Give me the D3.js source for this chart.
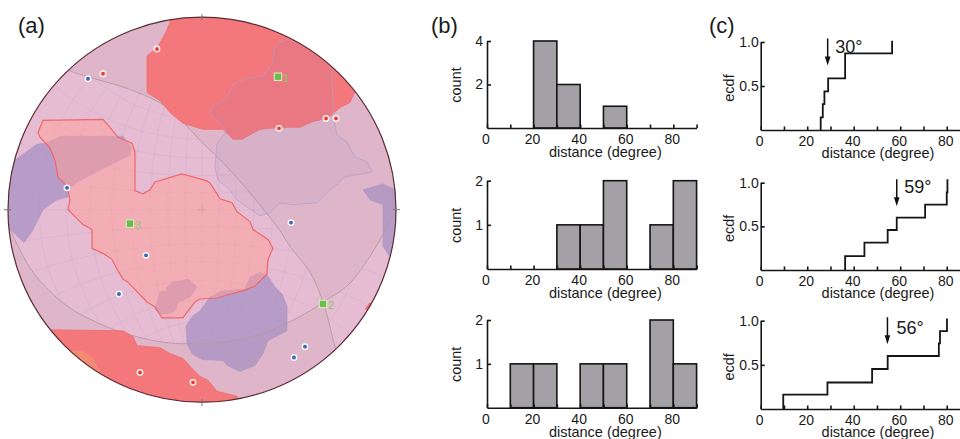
<!DOCTYPE html>
<html>
<head>
<meta charset="utf-8">
<script src="https://cdn.jsdelivr.net/npm/d3@7"></script>
<style>
	html, body { margin: 0; padding: 0; background: #fff; }
	svg { display: block; }
	text { font-family: "Liberation Sans", Arial, sans-serif; fill: #1a1a1a; }
	.axis path, .axis line { stroke: #151515; stroke-width: 1.6; }
	.axis text { font-size: 14px; font-family: "Liberation Sans", Arial, sans-serif; fill: #1a1a1a; }
</style>
</head>
<body>
<svg id="viz" width="960" height="439"></svg>
<script>
// Stereonet outlines. Net units, origin at disc centre, y down
const topRed = [[-32,-189],[-37,-177],[-45,-163],[-55,-155],[-55,-118],[-42,-110],[-32,-98],[-19,-87],[1,-81],[21,-81],[31,-71],[40,-71],[58,-81],[78,-83],[98,-83],[111,-89],[125,-92],[131,-97],[138,-103],[148,-108],[152,-117],[160,-125],[160,-205],[-32,-205]];
const bottomRed = [[-152,121],[-79,122],[-69,128],[-65,137],[-42,139],[-32,145],[-19,150],[-10,160],[-2,168],[6,172],[15,183],[35,188],[40,205],[-165,205],[-165,121]];
const lightRed = [[-164,-78],[-159,-90],[-99,-91],[-87,-77],[-84,-73],[-70,-67],[-67,-58],[-67,-19],[-59,-16],[-52,-20],[-47,-28],[-20,-36],[5,-29],[8,-27],[18,-11],[30,-7],[35,2],[48,12],[51,20],[66,30],[71,39],[66,50],[65,65],[53,77],[43,81],[25,86],[15,89],[-2,90],[-7,93],[-19,109],[-40,109],[-47,98],[-55,93],[-74,73],[-79,70],[-85,60],[-90,50],[-99,44],[-110,39],[-110,20],[-119,15],[-132,2],[-134,0],[-132,-10],[-135,-23],[-144,-33],[-147,-50],[-152,-62],[-162,-73]];
const lavender = [[85,-171],[76,-168],[72,-160],[70,-147],[61,-135],[43,-132],[31,-126],[25,-113],[10,-103],[8,-97],[23,-82],[23,-77],[15,-67],[13,-43],[16,-30],[26,-22],[35,-10],[46,-2],[58,6],[68,3],[78,-7],[91,-5],[115,-7],[125,-17],[143,-33],[170,-38],[165,-48],[153,-53],[145,-68],[135,-75],[131,-97],[130,-142],[130,-150],[90,-175]];
const purpleLeft = [[-187,-50],[-165,-66],[-157,-67],[-140,-74],[-79,-74],[-71,-63],[-72,-55],[-102,-40],[-125,-28],[-134,-20],[-134,-13],[-145,-10],[-159,0],[-170,22],[-178,33],[-192,20],[-200,20],[-200,-50]];
const purpleLower = [[-9,107],[-16,117],[-15,135],[-10,145],[0,151],[21,152],[25,157],[38,163],[53,157],[61,145],[66,132],[85,122],[85,97],[80,85],[73,78],[66,67],[58,63],[48,68],[43,80],[20,82],[8,88],[-2,102]];
const purpleSmall = [[-35,78],[-29,73],[-14,70],[-5,78],[-12,88],[-24,93],[-27,102],[-34,105],[-42,105],[-47,100],[-42,83],[-36,82]];
const purpleRight = [[161,-20],[181,-26],[198,-18],[198,52],[188,48],[181,37],[181,-5],[168,-10]];
const orangeSliver = [[-129,142],[-120,142],[-110,148],[-99,168],[-112,165],[-135,150]];
const redSliver = [[163,100],[167,94],[175,94],[170,105]];

// the two great circles, they cross at pole 2
const arcOne = [[-142,-146],[-132,-140],[-69,-120],[-35,-103],[1,-67],[28,-40],[75,17],[88,37],[108,63],[121,93],[133,138],[137,150]];
const arcTwo = [[-192,20],[-169,63],[-135,97],[-102,115],[-69,127],[-35,134],[-2,135],[31,132],[65,123],[108,102],[121,93],[145,77],[168,47],[193,3],[198,-5]];

const blueDots = [[-114,-132],[-135,-22],[-56,46],[-83,85],[89,13],[103,138],[92,149]];
const redDots = [[-45,-162],[-99,-137],[77,-82],[124,-92],[134,-92],[-62,164],[-9,174]];
const poles = [[76,-134],[121,95],[-72,14]];
const poleNames = ["1","2","3"];

// Histogram panels
const binStarts = [0,10,20,30,40,50,60,70,80];
const countsTop = [0,0,4,2,0,1,0,0,0];
const countsMiddle = [0,0,0,1,1,2,0,1,2];
const countsBottom = [0,1,1,0,1,1,0,2,1];
const countTicksTop = [2,4];
const countTicksOther = [1,2];

// Ecdf panels, one list of jump positions and one of heights
const ecdfXTop = [25.8,26.7,27.4,29,36.3,56.5];
const ecdfYTop = [0.144,0.295,0.44,0.587,0.871,1.015];
const ecdfXMiddle = [36.3,44.6,54.6,58.5,70.7,80,80.3];
const ecdfYMiddle = [0.16,0.313,0.458,0.6,0.75,0.89,1.04];
const ecdfXBottom = [9.7,28.7,47.9,54.6,76.6,77.1,80.1];
const ecdfYBottom = [0.162,0.3,0.453,0.6,0.743,0.883,1.026];
const arrowAt = [28.8,58.5,54.5];
const medianLabels = ["30°","59°","56°"];
const xTickValues = [0,10,20,30,40,50,60,70,80,90];
const ecdfTicks = [0.5,1];

const svg = d3.select("svg#viz");

// Helper functions, to make life easier
let translate = function(x, y) {
	return 'translate(' + x + ',' + y + ')';
}

drawNet();
drawHist(countsTop, countTicksTop, 128, 41, 4);
drawHist(countsMiddle, countTicksOther, 269, 180.7, 2);
drawHist(countsBottom, countTicksOther, 407.7, 320, 2);
drawEcdf(ecdfXTop, ecdfYTop, 130, 42, 0);
drawEcdf(ecdfXMiddle, ecdfYMiddle, 270, 182.7, 1);
drawEcdf(ecdfXBottom, ecdfYBottom, 409, 320.7, 2);

svg.selectAll("text.panel")
	.data([["(a)",18],["(b)",431],["(c)",709]])
	.join("text")
	.attr("class", "panel")
	.attr("x", d => d[1])
	.attr("y", 33)
	.attr("font-size", 22)
	.text(d => d[0]);

function drawNet() {
	const cx = 202, cy = 209.7, rx = 194, ry = 192.5;

	const x = d3.scaleLinear().domain([-194, 194]).range([cx - rx, cx + rx]);
	const y = d3.scaleLinear().domain([-194, 194]).range([cy - ry, cy + ry]);

	const shape = d3.line().x(d => x(d[0])).y(d => y(d[1])).curve(d3.curveLinearClosed);
	const open = d3.line().x(d => x(d[0])).y(d => y(d[1])).curve(d3.curveCatmullRom);
	const straight = d3.line().x(d => x(d[0])).y(d => y(d[1]));

	const defs = svg.append("defs");
	defs.append("clipPath").attr("id", "disc")
		.append("ellipse")
		.attr("cx", cx).attr("cy", cy).attr("rx", rx).attr("ry", ry);

	// lighter lunes, left and right of the crossing
	const i = arcOne.findIndex(d => d[0] == 121);
	const j = arcTwo.findIndex(d => d[0] == 121);
	const leftLune = open(arcOne.slice(0, i + 1))
		+ open(arcTwo.slice(0, j + 1).reverse()).replace(/^M/, "L")
		+ straight([[-205, 20], [-205, -146]]).replace(/^M/, "L") + "Z";
	const rightLune = open(arcOne.slice(i))
		+ straight([[205, 150], [205, -5]]).replace(/^M/, "L")
		+ open(arcTwo.slice(j).reverse()).replace(/^M/, "L") + "Z";

	const lunes = defs.append("clipPath").attr("id", "lunes");
	lunes.append("path").attr("d", leftLune);
	lunes.append("path").attr("d", rightLune);

	const net = svg.append("g").attr("id", "net").attr("clip-path", "url(#disc)");

	net.append("rect")
		.attr("x", cx - rx).attr("y", cy - ry)
		.attr("width", 2 * rx).attr("height", 2 * ry)
		.attr("fill", "#dfb6c9");
	net.append("path").attr("d", leftLune).attr("fill", "#e6bcd3");
	net.append("path").attr("d", rightLune).attr("fill", "#e6bcd3");

	// faint wulff grid, only shows inside the lunes
	const projection = d3.geoStereographic()
		.scale(194)
		.translate([cx, cy])
		.clipAngle(90)
		.precision(0.5);
	const graticule = d3.geoGraticule().step([10, 10]).extent([[-180, -80], [180, 80]]);
	net.append("g").attr("clip-path", "url(#lunes)")
		.append("path")
		.attr("d", d3.geoPath(projection)(graticule()))
		.attr("fill", "none")
		.attr("stroke", "#cfaccb")
		.attr("stroke-opacity", 0.4)
		.attr("stroke-width", 0.9);

	// purple blobs go under the red ones
	net.selectAll("path.purple")
		.data([purpleLeft, purpleLower, purpleSmall, purpleRight])
		.join("path")
		.attr("class", "purple")
		.attr("d", shape)
		.attr("fill", "#9987c1")
		.attr("fill-opacity", 0.6)
		.attr("stroke", "#ad95c8")
		.attr("stroke-width", 0.6);

	net.selectAll("path.arc")
		.data([arcOne, arcTwo])
		.join("path")
		.attr("class", "arc")
		.attr("d", open)
		.attr("fill", "none")
		.attr("stroke", "#b7989f")
		.attr("stroke-width", 0.9);

	net.append("path")
		.attr("d", shape(lightRed))
		.attr("fill", "#ff9e95")
		.attr("fill-opacity", 0.5)
		.attr("stroke", "#f0666a")
		.attr("stroke-width", 1.2);

	net.selectAll("path.red")
		.data([topRed, bottomRed])
		.join("path")
		.attr("class", "red")
		.attr("d", shape)
		.attr("fill", "#f4777b")
		.attr("stroke", "#ee6f70")
		.attr("stroke-width", 0.8);

	net.append("path").attr("d", shape(orangeSliver)).attr("fill", "#f28a74");
	net.append("path").attr("d", shape(redSliver)).attr("fill", "#ee6f70");

	net.append("path")
		.attr("d", shape(lavender))
		.attr("fill", "#9987c1")
		.attr("fill-opacity", 0.11)
		.attr("stroke", "#b39dcd")
		.attr("stroke-opacity", 0.75)
		.attr("stroke-width", 0.9);

	// outline, compass ticks and centre cross
	svg.append("ellipse")
		.attr("cx", cx).attr("cy", cy).attr("rx", rx).attr("ry", ry)
		.attr("fill", "none")
		.attr("stroke", "#5a2c34")
		.attr("stroke-width", 1.2);

	svg.selectAll("line.compass")
		.data([[cx, cy - ry - 3, cx, cy - ry + 3], [cx, cy + ry - 3, cx, cy + ry + 4],
			[cx - rx - 4, cy, cx - rx + 3, cy], [cx + rx - 3, cy, cx + rx + 4, cy]])
		.join("line")
		.attr("class", "compass")
		.attr("x1", d => d[0]).attr("y1", d => d[1])
		.attr("x2", d => d[2]).attr("y2", d => d[3])
		.attr("stroke", "#777");
	svg.selectAll("line.centre")
		.data([[cx - 4, cy, cx + 4, cy], [cx, cy - 4, cx, cy + 4]])
		.join("line")
		.attr("class", "centre")
		.attr("x1", d => d[0]).attr("y1", d => d[1])
		.attr("x2", d => d[2]).attr("y2", d => d[3])
		.attr("stroke", "#e39ea4");

	const dots = [[blueDots, "#3f66b8"], [redDots, "#ee3b2e"]];
	dots.forEach(function([points, colour]) {
		svg.append("g").selectAll("circle")
			.data(points)
			.join("circle")
			.attr("cx", d => x(d[0]))
			.attr("cy", d => y(d[1]))
			.attr("r", 2.7)
			.attr("fill", colour)
			.attr("stroke", "#fff")
			.attr("stroke-opacity", 0.9)
			.attr("stroke-width", 1.5);
	});

	svg.append("g").selectAll("rect")
		.data(poles)
		.join("rect")
		.attr("x", d => x(d[0]) - 3.7)
		.attr("y", d => y(d[1]) - 3.7)
		.attr("width", 7.4)
		.attr("height", 7.4)
		.attr("fill", "#69bf4a")
		.attr("stroke", "#dcecc9")
		.attr("stroke-width", 1);

	svg.append("g").selectAll("text")
		.data(poles)
		.join("text")
		.attr("x", d => x(d[0]) + 5)
		.attr("y", d => y(d[1]) + 5)
		.attr("font-size", 11)
		.style("fill", "#86cc6c")
		.text((d, k) => poleNames[k]);
}

function drawAxes(g, x, y, yTicks, yFormat, padLeft) {
	const xAxis = d3.axisBottom(x)
		.tickValues(xTickValues)
		.tickSize(-3.5)
		.tickSizeOuter(0)
		.tickPadding(6)
		.tickFormat(d => (d % 20 == 0 && d < 90) ? d : "");
	g.append("g")
		.attr("class", "axis")
		.attr("transform", translate(0, y.range()[0]))
		.call(xAxis)
		.selectAll("text")
		.attr("dx", -1.5);

	const yAxis = d3.axisLeft(y)
		.tickValues(yTicks)
		.tickSize(-4)
		.tickSizeOuter(0)
		.tickPadding(padLeft)
		.tickFormat(yFormat);
	g.append("g")
		.attr("class", "axis")
		.attr("transform", translate(x.range()[0], 0))
		.call(yAxis);
}

function drawHist(counts, ticks, base, top, maxCount) {
	const x = d3.scaleLinear().domain([0, 90]).range([487, 696.6]);
	const y = d3.scaleLinear().domain([0, maxCount]).range([base, top]);
	const g = svg.append("g").attr("class", "hist");

	g.selectAll("rect")
		.data(binStarts.filter((d, i) => counts[i] > 0))
		.join("rect")
		.attr("x", d => x(d))
		.attr("width", d => x(d + 10) - x(d))
		.attr("y", d => y(counts[binStarts.indexOf(d)]))
		.attr("height", d => base - y(counts[binStarts.indexOf(d)]))
		.attr("fill", "#a3a1a6")
		.attr("stroke", "#151515")
		.attr("stroke-width", 1.6);

	drawAxes(g, x, y, ticks, d3.format("d"), 4);

	g.append("text")
		.attr("x", 605.3)
		.attr("y", base + 29)
		.attr("text-anchor", "middle")
		.attr("font-size", 14.5)
		.text("distance (degree)");
	g.append("text")
		.attr("transform", translate(461, (base + top) / 2 + 0.5) + " rotate(-90)")
		.attr("text-anchor", "middle")
		.attr("font-size", 14.5)
		.text("count");
}

function drawEcdf(jumps, heights, base, top, k) {
	const x = d3.scaleLinear().domain([0, 90]).range([760.7, 970]);
	const y = d3.scaleLinear().domain([0, 1]).range([base, top]);
	const g = svg.append("g").attr("class", "ecdf");

	// flat run first, then the jump
	const pts = [[jumps[0], 0]].concat(jumps.map((d, i) => [d, heights[i]]));
	const step = d3.line().x(d => x(d[0])).y(d => y(d[1])).curve(d3.curveStepAfter);
	g.append("path")
		.attr("d", step(pts))
		.attr("fill", "none")
		.attr("stroke", "#151515")
		.attr("stroke-width", 1.8);

	drawAxes(g, x, y, ecdfTicks, d3.format(".1f"), 2);

	// median arrow and its label
	const ax = x(arrowAt[k]);
	const arrowTop = top - 3.5;
	g.append("line")
		.attr("x1", ax).attr("x2", ax)
		.attr("y1", arrowTop).attr("y2", arrowTop + 20)
		.attr("stroke", "#111")
		.attr("stroke-width", 1.5);
	g.append("path")
		.attr("d", d3.line()([[ax - 2.8, arrowTop + 18], [ax + 2.8, arrowTop + 18], [ax, arrowTop + 27]]) + "Z")
		.attr("fill", "#111");
	g.append("text")
		.attr("x", ax + (k == 2 ? 9 : 7.5))
		.attr("y", top + (k == 2 ? 13.5 : 10.5))
		.attr("font-size", 18)
		.text(medianLabels[k]);

	g.append("text")
		.attr("x", 878)
		.attr("y", base + 28)
		.attr("text-anchor", "middle")
		.attr("font-size", 14.5)
		.text("distance (degree)");
	g.append("text")
		.attr("transform", translate(734, (base + top) / 2 + 2) + " rotate(-90)")
		.attr("text-anchor", "middle")
		.attr("font-size", 14.5)
		.text("ecdf");
}
</script>
</body>
</html>
